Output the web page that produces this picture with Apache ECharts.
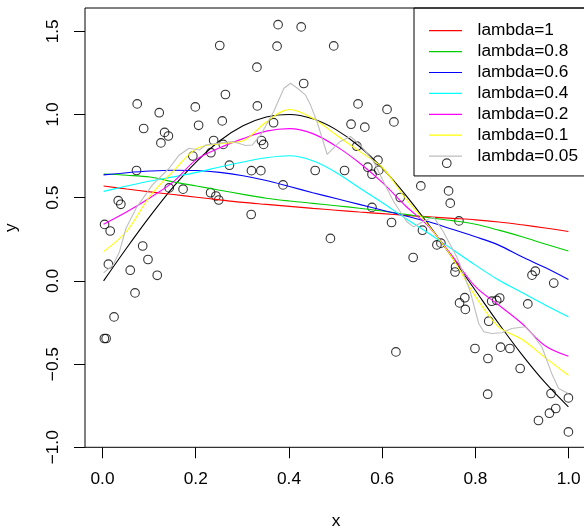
<!DOCTYPE html>
<html><head><meta charset="utf-8">
<script src="https://cdn.jsdelivr.net/npm/echarts@6/dist/echarts.min.js"></script>
<style>html,body{margin:0;padding:0;background:#fff}#c{width:584px;height:530px}</style>
</head><body><div id="c"></div>
<script>
// observed points
const pointX = [0.0021,0.0142,0.0017,0.0054,0.0103,0.0225,0.0315,0.0371,0.0573,0.0676,
  0.0708,0.0723,0.0841,0.0862,0.0955,0.1154,0.1197,0.1233,0.1313,0.1394,
  0.1411,0.1710,0.1920,0.1973,0.2044,0.2302,0.2308,0.2368,0.2417,0.2477,
  0.2499,0.2553,0.2574,0.2621,0.2707,0.3175,0.3181,0.3383,0.3299,0.3308,
  0.3396,0.3443,0.3657,0.3732,0.3754,0.3861,0.4251,0.4305,0.4552,0.4880,
  0.4951,0.5184,0.5324,0.5448,0.5474,0.5620,0.5684,0.5774,0.5774,0.5903,
  0.5920,0.6098,0.6195,0.6246,0.6289,0.6381,0.6660,0.6825,0.6860,0.7171,
  0.7257,0.7383,0.7422,0.7458,0.7572,0.7561,0.7645,0.7658,0.7771,0.7782,
  0.7990,0.8269,0.8263,0.8286,0.8350,0.8458,0.8522,0.8541,0.8741,0.8962,
  0.9127,0.9217,0.9288,0.9356,0.9592,0.9627,0.9685,0.9728,1.0000,1.0000];
const pointY = [0.3395,0.2999,-0.3462,-0.3462,0.1004,-0.2163,0.4820,0.4603,0.0643,-0.0721,
  0.6635,1.0637,0.2097,0.9159,0.1286,0.0337,1.0108,0.8293,0.8924,0.8708,
  0.5589,0.5511,0.7500,1.0457,0.9351,0.5300,0.7704,0.8438,0.5102,0.4862,
  1.4147,0.9615,0.8203,1.1202,0.6953,0.3990,0.6623,0.6623,1.2843,1.0517,
  0.8438,0.8203,0.9507,1.4105,1.5397,0.5769,1.5264,1.1863,0.6635,0.2554,
  1.4123,0.6635,0.9417,0.8095,1.0637,0.9237,0.6833,0.6412,0.4417,0.7254,
  0.6653,1.0306,0.3510,0.9555,-0.4267,0.5012,0.1406,0.5709,0.3047,0.2163,
  0.2266,0.7073,0.5409,0.4670,0.0841,0.0535,0.3606,-0.1322,-0.1010,-0.1713,
  -0.4062,-0.4663,-0.6809,-0.2422,-0.1220,-0.1172,-0.1028,-0.3984,-0.4062,-0.5264,
  -0.1382,0.0343,0.0583,-0.8389,-0.7951,-0.6767,-0.0132,-0.7668,-0.7031,-0.9075];

// curves sampled on a common x grid
const curveX = [0,0.05,0.1,0.15,0.2,0.25,0.3,0.35,0.4,0.45,0.5,0.55,0.6,0.65,0.7,0.75,0.8,0.85,0.9,0.95,1.0];
const trueCurve = [0,0.199,0.389,0.565,0.717,0.842,0.932,0.985,1.0,0.974,0.909,0.809,0.676,0.516,0.335,0.141,-0.058,-0.256,-0.443,-0.612,-0.757];
const lambda1   = [0.570,0.552,0.535,0.519,0.503,0.487,0.472,0.460,0.448,0.436,0.425,0.414,0.404,0.394,0.385,0.376,0.367,0.354,0.337,0.318,0.297];
const lambda08  = [0.642,0.635,0.624,0.595,0.570,0.545,0.520,0.497,0.480,0.466,0.452,0.437,0.420,0.400,0.380,0.362,0.340,0.305,0.265,0.222,0.180];
const lambda06  = [0.637,0.650,0.660,0.665,0.663,0.652,0.632,0.603,0.567,0.530,0.495,0.460,0.425,0.390,0.355,0.310,0.265,0.215,0.145,0.080,0.008];
const lambda04  = [0.538,0.570,0.600,0.625,0.652,0.685,0.715,0.740,0.752,0.722,0.652,0.560,0.470,0.375,0.285,0.190,0.095,0.005,-0.070,-0.145,-0.216];
const lambda02  = [0.340,0.415,0.500,0.595,0.730,0.800,0.855,0.900,0.915,0.885,0.810,0.710,0.590,0.450,0.325,0.150,-0.035,-0.145,-0.256,-0.390,-0.453];
const lambda01  = [0.176,0.300,0.510,0.660,0.795,0.825,0.842,0.955,1.030,0.978,0.878,0.780,0.680,0.495,0.330,0.140,-0.093,-0.276,-0.351,-0.461,-0.567];
// wiggly curve on its own x grid
const lambda005X = [0,0.02,0.034,0.048,0.07,0.105,0.141,0.163,0.184,0.206,0.22,0.248,0.277,0.306,0.32,0.338,0.366,0.388,0.402,0.417,0.434,0.445,0.459,0.481,0.509,0.531,0.552,0.581,0.602,0.624,0.652,0.667,0.69,0.71,0.73,0.76,0.788,0.807,0.818,0.835,0.857,0.878,0.907,0.921,0.943,0.964,0.979,1.0];
const lambda005Y = [0.048,0.094,0.174,0.315,0.437,0.577,0.677,0.757,0.797,0.787,0.817,0.828,0.838,0.814,0.817,0.877,1.018,1.158,1.188,1.158,1.118,1.058,0.958,0.761,0.838,0.868,0.817,0.718,0.597,0.477,0.357,0.325,0.360,0.385,0.300,0.144,-0.056,-0.256,-0.306,-0.316,-0.312,-0.286,-0.276,-0.316,-0.397,-0.556,-0.647,-0.677];

const seriesNames = ['lambda=1','lambda=0.8','lambda=0.6','lambda=0.4','lambda=0.2','lambda=0.1','lambda=0.05'];
const seriesColors = ['#FF0000','#00CD00','#0000FF','#00FFFF','#FF00FF','#FFFF00','#BEBEBE'];
const xTickLabels = ['0.0','0.2','0.4','0.6','0.8','1.0'];
const yTickLabels = ['\u22121.0','\u22120.5','0.0','0.5','1.0','1.5'];

const FONT = 'Liberation Sans, Arial, Helvetica, sans-serif';
const FS = 17.3;
const zip = (xs, ys) => xs.map((x, i) => [x, ys[i]]);

const smoothSets = [lambda1, lambda08, lambda06, lambda04, lambda02, lambda01];
const lineSeries = seriesNames.map((name, i) => ({
  name, type: 'line', xAxisIndex: 0, yAxisIndex: 0,
  data: i < 6 ? zip(curveX, smoothSets[i]) : zip(lambda005X, lambda005Y),
  smooth: i < 6 ? 0.35 : false,
  showSymbol: false, symbol: 'none', silent: true,
  lineStyle: { color: seriesColors[i], width: 1.1 },
  itemStyle: { color: seriesColors[i] },
  z: 3
}));

const chart = echarts.init(document.getElementById('c'), null, { renderer: 'canvas' });
chart.setOption({
  animation: false,
  backgroundColor: '#fff',
  textStyle: { fontFamily: FONT },
  grid: [
    { left: 85, top: 8, width: 502, height: 439.3, show: true, borderColor: '#000', borderWidth: 1, backgroundColor: 'transparent', containLabel: false, outerBoundsMode: 'none' },
    { left: 102.5, top: 31.3, width: 466.2, height: 416, show: false, containLabel: false, outerBoundsMode: 'none' }
  ],
  xAxis: [
    { gridIndex: 0, type: 'value', min: -0.04, max: 1.04,
      axisLine: { show: false, onZero: false }, axisTick: { show: false }, axisLabel: { show: false }, splitLine: { show: false },
      name: 'x', nameLocation: 'middle', nameGap: 65.5,
      nameTextStyle: { fontFamily: FONT, fontSize: FS, color: '#000' } },
    { gridIndex: 1, type: 'value', min: 0, max: 1, interval: 0.2, position: 'bottom',
      axisLine: { show: false, onZero: false },
      axisTick: { show: true, length: 11, lineStyle: { color: '#000', width: 1 } },
      axisLabel: { margin: 23, fontFamily: FONT, fontSize: FS, color: '#000',
        formatter: v => xTickLabels[Math.round(v / 0.2)] },
      splitLine: { show: false } }
  ],
  yAxis: [
    { gridIndex: 0, type: 'value', min: -1.0, max: 1.64,
      axisLine: { show: false, onZero: false }, axisTick: { show: false }, axisLabel: { show: false }, splitLine: { show: false },
      name: 'y', nameLocation: 'middle', nameGap: 65, nameRotate: 90,
      nameTextStyle: { fontFamily: FONT, fontSize: FS, color: '#000' } },
    { gridIndex: 1, type: 'value', min: -1.0, max: 1.5, interval: 0.5, offset: 17.5, position: 'left',
      axisLine: { show: false, onZero: false },
      axisTick: { show: true, length: 11, lineStyle: { color: '#000', width: 1 } },
      axisLabel: { rotate: 90, margin: 23, fontFamily: FONT, fontSize: FS, color: '#000',
        formatter: v => yTickLabels[Math.round((v + 1) / 0.5)] },
      splitLine: { show: false } }
  ],
  legend: {
    show: true, data: seriesNames, orient: 'vertical', left: 414, top: 8,
    padding: [12.25, 12, 9.4, 15], itemGap: 0, itemWidth: 33, itemHeight: 1.2, icon: 'rect',
    borderColor: '#000', borderWidth: 1, backgroundColor: 'transparent',
    selectedMode: false,
    textStyle: { fontFamily: FONT, fontSize: FS, color: '#000', lineHeight: 20.9, padding: [0, 0, 0, 10.6] }
  },
  series: [
    { type: 'scatter', name: 'data', xAxisIndex: 0, yAxisIndex: 0, data: zip(pointX, pointY),
      symbol: 'circle', symbolSize: 8.6, silent: true,
      itemStyle: { color: 'transparent', borderColor: '#000', borderWidth: 1.1 }, z: 2 },
    { type: 'line', name: 'truth', xAxisIndex: 0, yAxisIndex: 0, data: zip(curveX, trueCurve),
      smooth: 0.35, showSymbol: false, symbol: 'none', silent: true,
      lineStyle: { color: '#000', width: 1.1 }, z: 3 }
  ].concat(lineSeries)
});
</script></body></html>
